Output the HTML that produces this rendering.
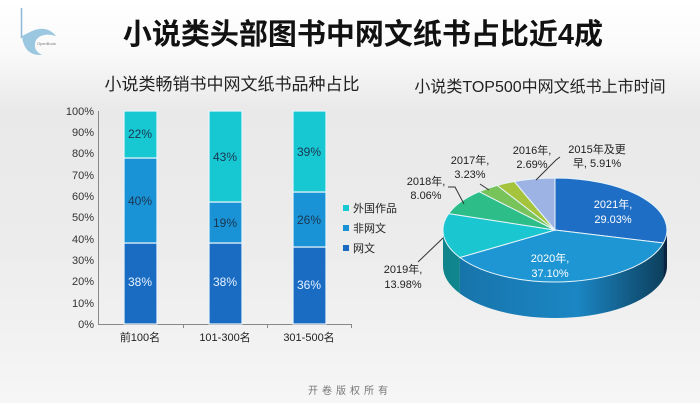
<!DOCTYPE html>
<html><head><meta charset="utf-8"><style>
html,body{margin:0;padding:0}
body{width:700px;height:403px;overflow:hidden;background:linear-gradient(#fff 0,#fafafa 50px,#e9e9e9 110px,#ececec 250px,#f6f6f6 403px);font-family:"Liberation Sans","Noto Sans CJK SC",sans-serif;position:relative}
</style></head><body>
<svg width="700" height="403" viewBox="0 0 700 403" xmlns="http://www.w3.org/2000/svg" style="position:absolute;left:0;top:0">
<defs>
<linearGradient id="sd" x1="0" x2="1" y1="0" y2="0"><stop offset="0" stop-color="#000" stop-opacity="0.15"/><stop offset="0.6" stop-color="#000" stop-opacity="0"/><stop offset="1" stop-color="#000" stop-opacity="0.55"/></linearGradient>
</defs>
<!-- logo -->
<line x1="21.5" y1="8" x2="21.5" y2="38" stroke="#8fb8d8" stroke-width="1.5"/>
<path d="M22 36 Q24 56 42 55 Q32 50 36 40 Q42 32 56 36 Q46 24 30 32 Q24 35 22 36" fill="#9cc7e0"/>
<text x="37" y="45" font-size="4" fill="#777">OpenBook</text>
<text x="363" y="44" text-anchor="middle" font-size="29" font-weight="bold" fill="#111">小说类头部图书中网文纸书占比近4成</text>
<text x="232" y="90" text-anchor="middle" font-size="17" fill="#222">小说类畅销书中网文纸书品种占比</text>
<text x="540" y="92" text-anchor="middle" font-size="16" fill="#222">小说类TOP500中网文纸书上市时间</text>
<!-- bar axis -->
<g font-size="11" fill="#333" text-anchor="end">
<text x="94" y="115">100%</text><text x="94" y="136">90%</text><text x="94" y="157">80%</text><text x="94" y="179">70%</text><text x="94" y="200">60%</text><text x="94" y="221">50%</text><text x="94" y="243">40%</text><text x="94" y="264">30%</text><text x="94" y="285">20%</text><text x="94" y="307">10%</text><text x="94" y="328">0%</text>
</g>
<g stroke="#888" stroke-width="1"><line x1="98.5" y1="111" x2="98.5" y2="324"/><line x1="98" y1="324.5" x2="352" y2="324.5"/>
<line x1="183.5" y1="324" x2="183.5" y2="328"/><line x1="267.5" y1="324" x2="267.5" y2="328"/><line x1="351.5" y1="324" x2="351.5" y2="328"/></g>
<g stroke="#e8f4fa" stroke-width="1.2">
<rect x="124" y="243" width="33" height="81" fill="#1a6cc3"/><rect x="124" y="158" width="33" height="85" fill="#1a93d6"/><rect x="124" y="111" width="33" height="47" fill="#17c8d3"/>
<rect x="209" y="243" width="33" height="81" fill="#1a6cc3"/><rect x="209" y="202" width="33" height="41" fill="#1a93d6"/><rect x="209" y="111" width="33" height="91" fill="#17c8d3"/>
<rect x="293" y="247" width="33" height="77" fill="#1a6cc3"/><rect x="293" y="192" width="33" height="55" fill="#1a93d6"/><rect x="293" y="111" width="33" height="81" fill="#17c8d3"/>
</g>
<g font-size="12" text-anchor="middle" fill="#1b3550">
<text x="140" y="138">22%</text><text x="140" y="205">40%</text><text x="140" y="286" fill="#e6f2ff">38%</text>
<text x="225" y="161">43%</text><text x="225" y="227">19%</text><text x="225" y="286" fill="#e6f2ff">38%</text>
<text x="309" y="156">39%</text><text x="309" y="224">26%</text><text x="309" y="289" fill="#e6f2ff">36%</text>
</g>
<g font-size="11" fill="#222" text-anchor="middle"><text x="140" y="341">前100名</text><text x="225" y="341">101-300名</text><text x="309" y="341">301-500名</text></g>
<rect x="343" y="205" width="6" height="6" fill="#17c8d3"/><rect x="343" y="225" width="6" height="6" fill="#1a93d6"/><rect x="343" y="245" width="6" height="6" fill="#1a6cc3"/>
<g font-size="11" fill="#222"><text x="353" y="212">外国作品</text><text x="353" y="232">非网文</text><text x="353" y="252">网文</text></g>
<!-- pie side -->
<path d="M667 230 A112 52 0 0 1 663.4 243 L663.4 279 A112 52 0 0 0 667 266Z" fill="#154f90"/>
<path d="M663.4 243 A112 52 0 0 1 459.9 257.5 L459.9 293.5 A112 52 0 0 0 663.4 279Z" fill="#1b86c4"/>
<path d="M459.9 257.5 A112 52 0 0 1 443 230 L443 266 A112 52 0 0 0 459.9 293.5Z" fill="#139aa3"/>
<path d="M667 230 A112 52 0 0 1 443 230 L443 266 A112 52 0 0 0 667 266Z" fill="url(#sd)"/>
<!-- pie top -->
<g stroke="#e8f4fa" stroke-width="1">
<path d="M555 230 L555 178 A112 52 0 0 1 663.4 243Z" fill="#1f6ec5"/>
<path d="M555 230 L663.4 243 A112 52 0 0 1 459.9 257.5Z" fill="#1e96d4"/>
<path d="M555 230 L459.9 257.5 A112 52 0 0 1 448.7 213.6Z" fill="#1ac6cf"/>
<path d="M555 230 L448.7 213.6 A112 52 0 0 1 479.2 191.7Z" fill="#2dbd88"/>
<path d="M555 230 L479.2 191.7 A112 52 0 0 1 497.3 185.4Z" fill="#78c35a"/>
<path d="M555 230 L497.3 185.4 A112 52 0 0 1 514.3 181.5Z" fill="#a5c43c"/>
<path d="M555 230 L514.3 181.5 A112 52 0 0 1 555 178Z" fill="#9db3e3"/>
</g>
<g font-size="11" fill="#fff" text-anchor="middle"><text x="613" y="208">2021年,</text><text x="613" y="223">29.03%</text><text x="550" y="262">2020年,</text><text x="550" y="277">37.10%</text></g>
<g font-size="11" fill="#222" text-anchor="middle">
<text x="403" y="273">2019年,</text><text x="403" y="288">13.98%</text>
<text x="426" y="185">2018年,</text><text x="426" y="199">8.06%</text>
<text x="470" y="164">2017年,</text><text x="470" y="178">3.23%</text>
<text x="532" y="154">2016年,</text><text x="532" y="168">2.69%</text>
<text x="597" y="153">2015年及更</text><text x="597" y="167">早, 5.91%</text>
</g>
<g stroke="#333" fill="none" stroke-width="1"><path d="M418 262 L443 238"/><path d="M448 187 L455 187 L464 204"/><path d="M480 184 L489 190"/><path d="M536 180 L556 160 L560 157"/></g>
<text x="350" y="394" text-anchor="middle" font-size="10" fill="#777" letter-spacing="4">开卷版权所有</text>
</svg>
</body></html>
